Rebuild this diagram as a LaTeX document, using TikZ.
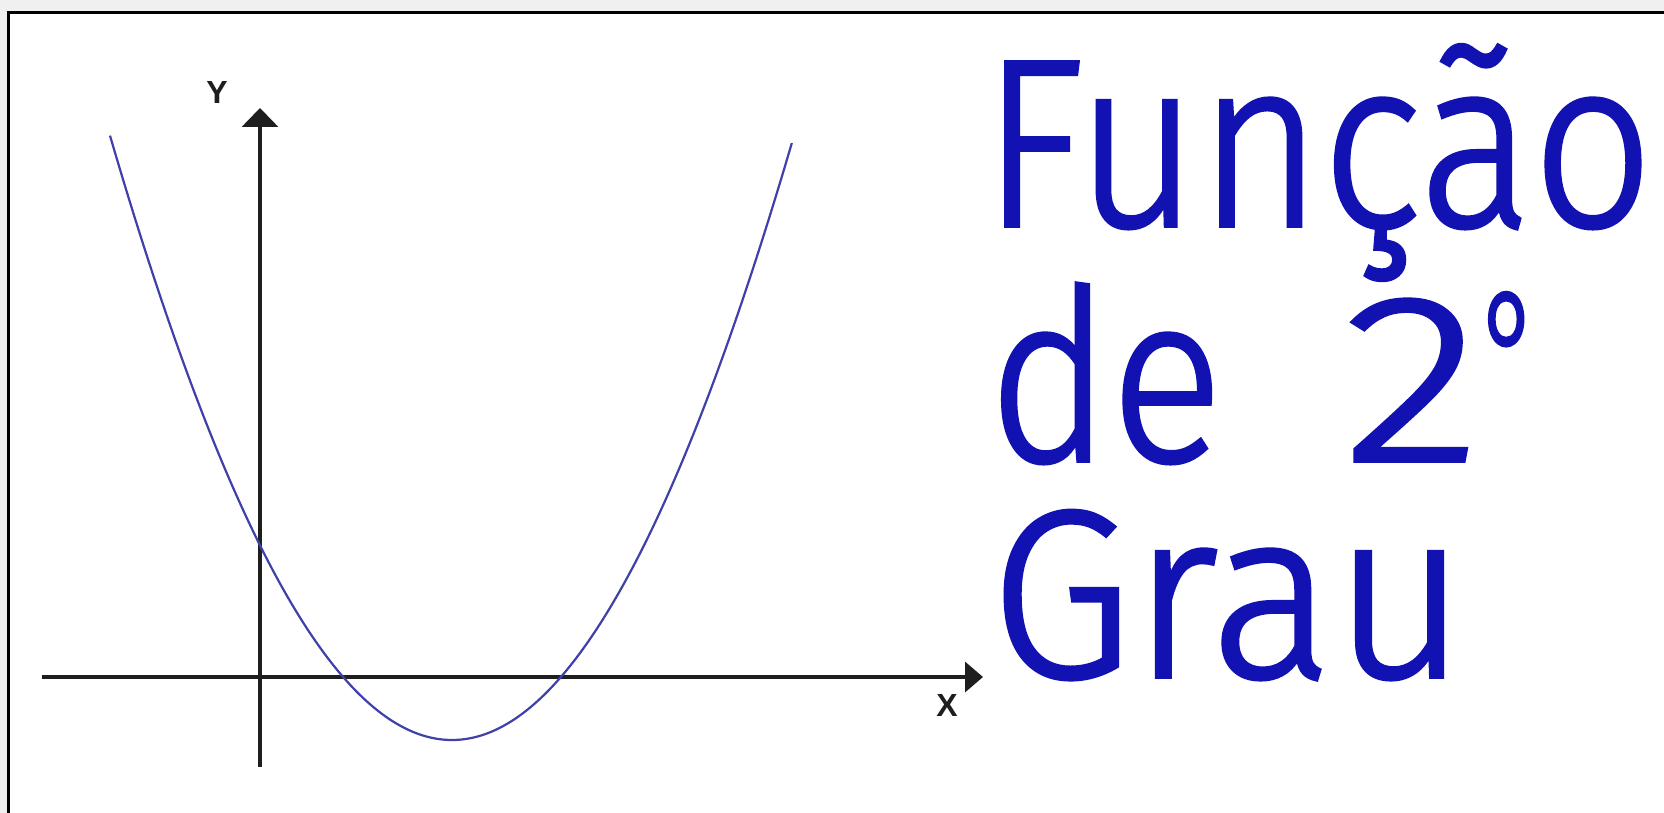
\documentclass[tikz,border=0pt]{standalone}
\usepackage{fontspec}
\setsansfont{Liberation Sans}
\newfontfamily\titlefont{Fira Sans Light}[FakeBold=1.6]
\usetikzlibrary{arrows.meta}
\definecolor{titleblue}{RGB}{18,18,178}
\definecolor{curveblue}{RGB}{64,64,170}
\definecolor{axisgray}{RGB}{30,30,30}
\definecolor{outergray}{RGB}{240,240,240}
\begin{document}
\begin{tikzpicture}[x=1pt,y=-1pt,
  axisline/.style={draw=axisgray, line width=3.5pt},
  axislabel/.style={font=\sffamily\bfseries\fontsize{32}{32}\selectfont, text=axisgray, inner sep=0pt},
  curve/.style={draw=curveblue, line width=2.2pt},
  titletext/.style={font=\titlefont\fontsize{230}{230}\selectfont, text=titleblue, inner sep=0pt, anchor=base west}]
\useasboundingbox (0,0) rectangle (1664,813);
\clip (0,0) rectangle (1664,813);
\fill[outergray] (0,0) rectangle (1664,813);
\fill[white] (8,12) rectangle (1700,850);
\draw[black, line width=3.5pt] (8.5,850) -- (8.5,12.5) -- (1700,12.5);
% axes
\coordinate (ybot) at (260,767);
\coordinate (ytop) at (260,108);
\coordinate (xleft) at (42,677);
\coordinate (xright) at (983,677);
\draw[axisline, -{Triangle[length=19pt,width=36pt]}] (ybot) -- (ytop);
\draw[axisline, -{Triangle[length=18pt,width=30pt]}] (xleft) -- (xright);
\node[axislabel] (ylab) at (217,92) {Y};
\node[axislabel] (xlab) at (947,705) {X};
% parabola
\draw[curve] plot[domain=-3.42:3.40, samples=120, smooth] ({452+100*\x}, {740-53.32*\x*\x+0.141*\x*\x*\x*\x});
% title
\node[titletext] (l1) at (982,226) {\scalebox{0.92}[1.04]{Função}};
\node[titletext] (l2a) at (988,461) {\scalebox{0.91}[1.04]{de}};
\node[titletext] (l2b) at (1343,461) {\scalebox{1.25}[1.04]{2}\raisebox{44pt}{\scalebox{0.5}[0.78]{°}}};
\node[titletext] (l3) at (990,677) {\scalebox{1.0}[1.04]{Grau}};
\end{tikzpicture}
\end{document}
